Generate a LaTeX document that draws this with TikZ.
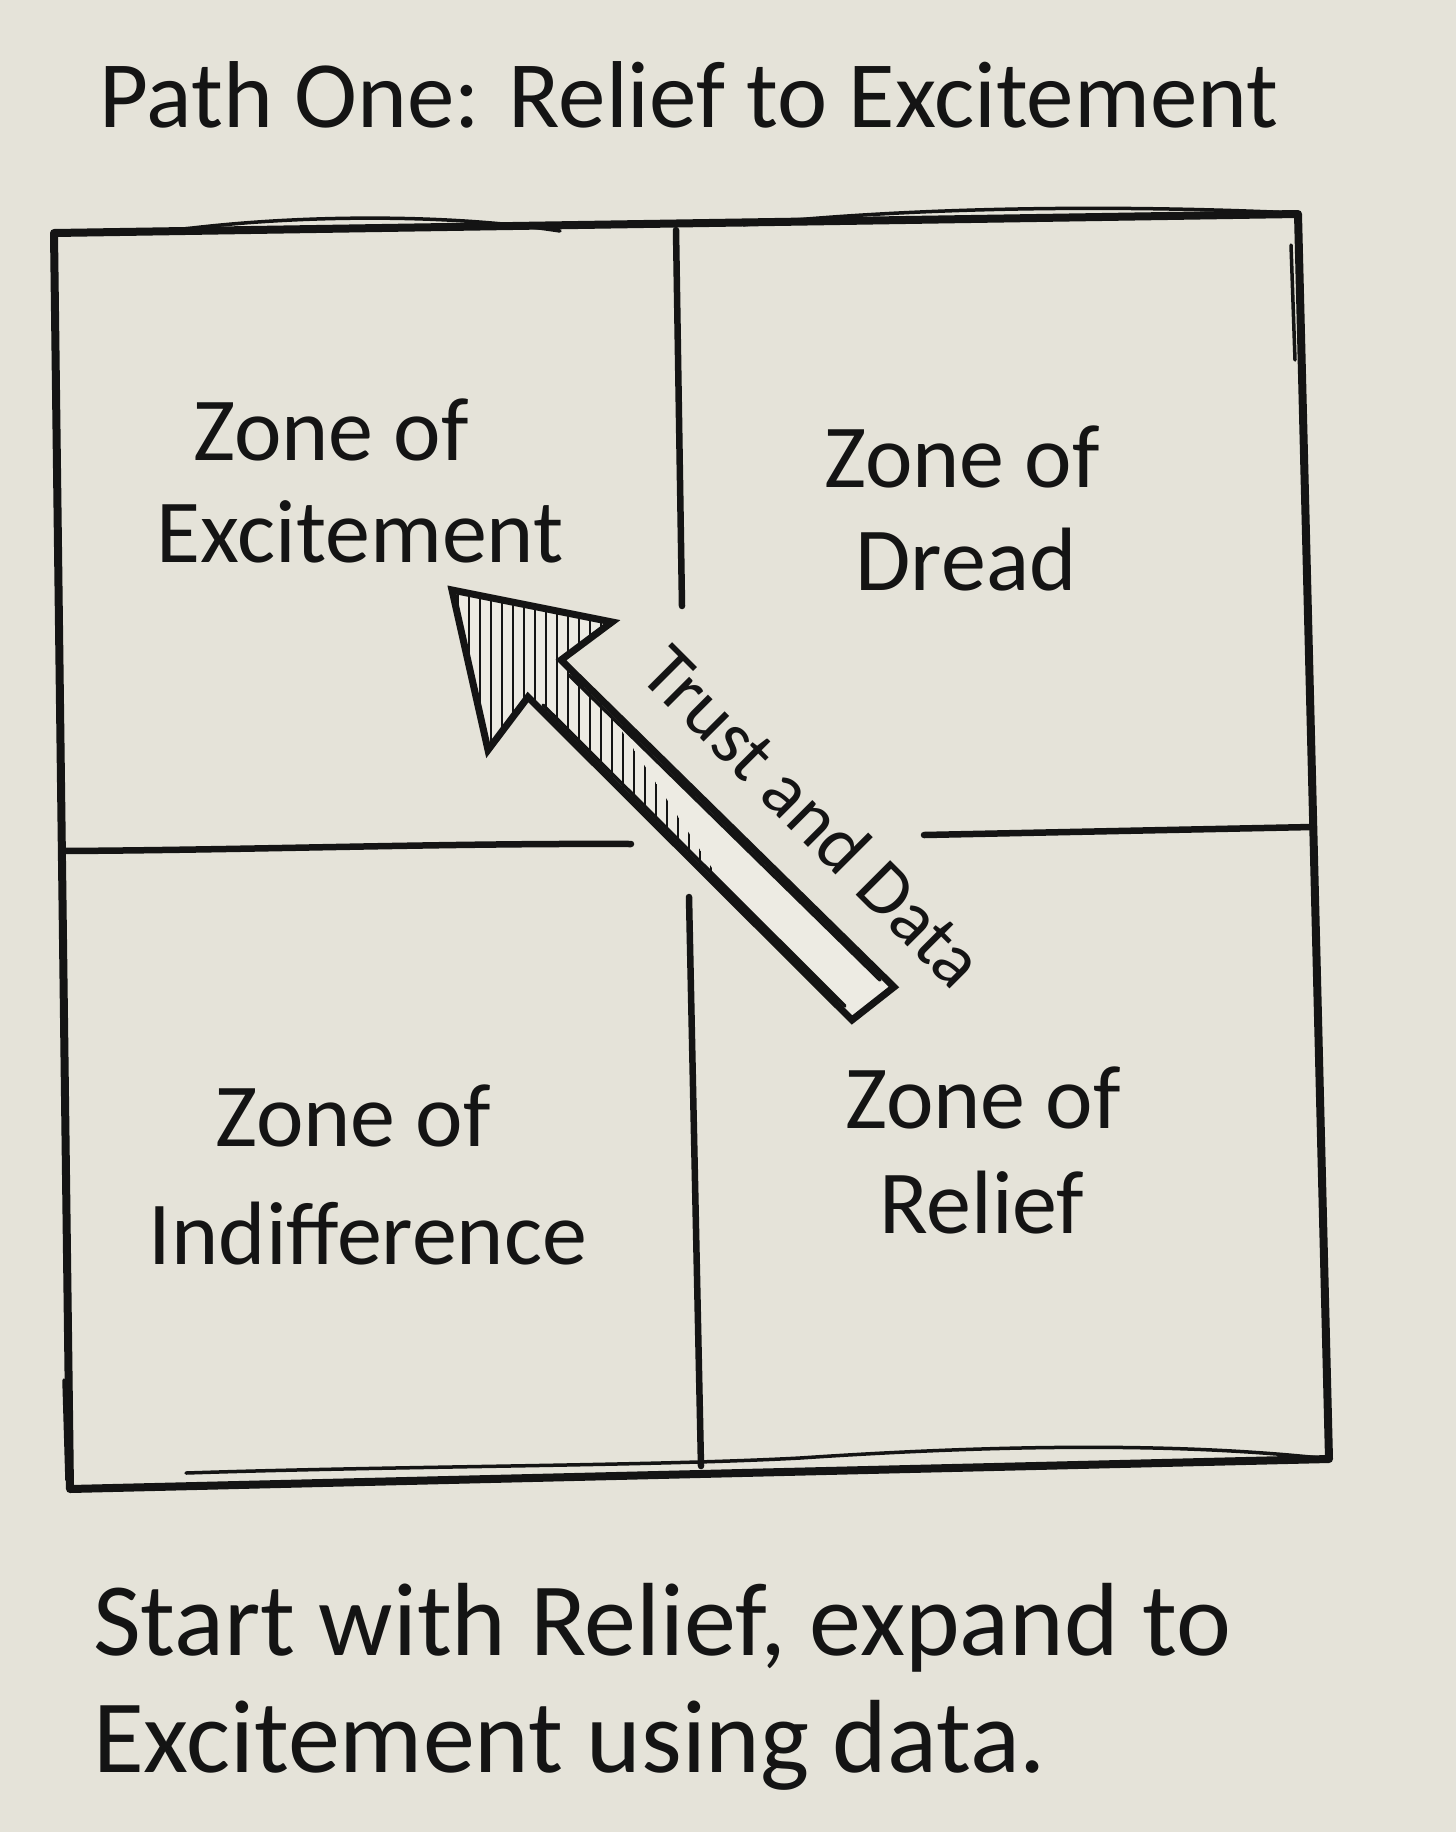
\documentclass[tikz,border=0pt]{standalone}
\usepackage{fontspec}
\setmainfont{Carlito}
\definecolor{paper}{RGB}{229,227,217}
\definecolor{ink}{RGB}{20,20,20}
\definecolor{arrowfill}{RGB}{237,235,227}
\tikzset{
  boxedge/.style={draw=ink, line width=8pt, line cap=round, line join=round},
  edgethin/.style={draw=ink, line width=3.5pt, line cap=round},
  divider/.style={draw=ink, line width=6.5pt, line cap=round},
  arrowline/.style={draw=ink, line width=7pt, line join=miter, line cap=round},
  hatchline/.style={draw=ink, line width=2.2pt},
  zonetext/.style={font=\fontsize{90}{100}\selectfont, text=ink, anchor=base, inner sep=0pt},
  titletext/.style={font=\fontsize{95}{100}\selectfont, text=ink, anchor=base, inner sep=0pt},
  notetext/.style={font=\fontsize{104}{110}\selectfont, text=ink, anchor=base west, inner sep=0pt},
  trusttext/.style={font=\fontsize{76}{80}\selectfont, text=ink, inner sep=0pt}
}
\begin{document}
\begin{tikzpicture}[x=1pt,y=-1pt]
\useasboundingbox (0,0) rectangle (1456,1832);
\fill[paper] (0,0) rectangle (1456,1832);

% title
\node[titletext] (title) at (689,127) {Path One: Relief to Excitement};

% outer box
\coordinate (TL) at (54,233);
\coordinate (TR) at (1298,214);
\coordinate (BR) at (1329,1459);
\coordinate (BL) at (70,1489);
\draw[boxedge] (TL) -- (TR) -- (BR) -- (BL) -- cycle;
\draw[edgethin] (176,230) .. controls (300,214) and (450,214) .. (560,231);
\draw[edgethin] (743,225) .. controls (900,208) and (1100,204) .. (1296,213);
\draw[edgethin] (186,1473) .. controls (400,1466) and (650,1466) .. (800,1458) .. controls (950,1448) and (1150,1440) .. (1320,1458);
\draw[edgethin] (1291,245) -- (1295,360);
\draw[edgethin] (64,1380) -- (67,1480);

% dividers
\coordinate (VT1) at (676,230);
\coordinate (VT2) at (682,606);
\coordinate (VB1) at (689,897);
\coordinate (VB2) at (701,1466);
\coordinate (HL1) at (62,851);
\coordinate (HL2) at (631,844);
\coordinate (HR1) at (924,835);
\coordinate (HR2) at (1312,827);
\draw[divider] (VT1) -- (VT2);
\draw[divider] (VB1) -- (VB2);
\draw[divider] (HL1) .. controls (250,850) and (450,843) .. (HL2);
\draw[divider] (HR1) -- (HR2);

% zone labels
\node[zonetext] (exc1) at (331,460) {Zone of};
\node[zonetext] (exc2) at (360,562) {Excitement};
\node[zonetext] (dre1) at (962,487) {Zone of};
\node[zonetext] (dre2) at (966,590) {Dread};
\node[zonetext] (ind1) at (353,1146) {Zone of};
\node[zonetext] (ind2) at (368,1264) {Indifference};
\node[zonetext] (rel1) at (983,1128) {Zone of};
\node[zonetext] (rel2) at (982,1233) {Relief};

% arrow
\coordinate (AT) at (452,590);
\coordinate (AR) at (612,622);
\coordinate (ARn) at (561,660);
\coordinate (ATr) at (894,987);
\coordinate (ATl) at (852,1020);
\coordinate (ALn) at (528,697);
\coordinate (AL) at (488,750);
\fill[arrowfill] (AT) -- (AR) -- (ARn) -- (ATr) -- (ATl) -- (ALn) -- (AL) -- cycle;
\begin{scope}
  \clip (AT) -- (AR) -- (ARn) -- (ATr) -- (ATl) -- (ALn) -- (AL) -- cycle;
  \clip (420,560) -- (640,560) -- (600,698) -- (735,903) -- (420,903) -- cycle;
  \foreach \hx in {458,469,...,740} {
    \draw[hatchline] (\hx,560) -- (\hx,910);
  }
\end{scope}
\draw[arrowline] (AT) -- (AR) -- (ARn) -- (ATr) -- (ATl) -- (ALn) -- (AL) -- cycle;
\draw[edgethin] (543,705) -- (845,1006);
\draw[edgethin] (569,675) -- (880,980);

\node[trusttext, rotate=-45] (trust) at (814,816) {Trust and Data};

% note
\node[notetext] (note1) at (93,1655) {Start with Relief, expand to};
\node[notetext] (note2) at (93,1772) {Excitement using data.};
\end{tikzpicture}
\end{document}
